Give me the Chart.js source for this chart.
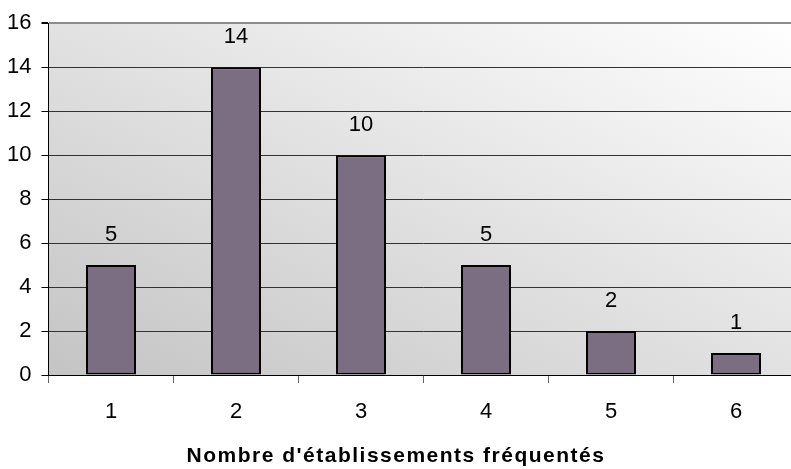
<!DOCTYPE html>
<html>
<head>
<meta charset="utf-8">
<script src="https://cdn.jsdelivr.net/npm/chart.js@4/dist/chart.umd.min.js"></script>
<style>
  html, body { margin: 0; padding: 0; background: #fff; overflow: hidden; }
  #wrap { width: 800px; height: 469px; }
</style>
</head>
<body>
<div id="wrap"><canvas id="myChart" width="800" height="469"></canvas></div>
<script>
// categories and values
var categories = ['1', '2', '3', '4', '5', '6'];
var counts = [5, 14, 10, 5, 2, 1];
var axisTitle = "Nombre d'établissements fréquentés";

Chart.defaults.font.family = '"Liberation Sans", Arial, sans-serif';
Chart.defaults.color = '#000';

// diagonal grey -> white fill behind the plot area
const plotBackground = {
  id: 'plotBackground',
  beforeDraw(chart) {
    const a = chart.chartArea;
    const ctx = chart.ctx;
    ctx.save();
    ctx.translate(a.left, a.top);
    ctx.scale(a.right - a.left, a.bottom - a.top);
    const g = ctx.createLinearGradient(0, 1, 1, 0);
    g.addColorStop(0, '#c4c4c4');
    g.addColorStop(1, '#ffffff');
    ctx.fillStyle = g;
    ctx.fillRect(0, 0, 1, 1);
    ctx.restore();
  }
};

// value printed above each bar + the x axis title under everything
const barLabels = {
  id: 'barLabels',
  afterDatasetsDraw(chart) {
    const ctx = chart.ctx;
    const meta = chart.getDatasetMeta(0);
    ctx.save();
    ctx.font = '22px "Liberation Sans", Arial, sans-serif';
    ctx.fillStyle = '#000';
    ctx.textAlign = 'center';
    ctx.textBaseline = 'middle';
    meta.data.forEach(function (bar, i) {
      ctx.fillText(String(counts[i]), bar.x, bar.y - 30);
    });
    ctx.restore();
  },
  afterDraw(chart) {
    const ctx = chart.ctx;
    ctx.save();
    ctx.font = 'bold 21px "Liberation Sans", Arial, sans-serif';
    ctx.letterSpacing = '1.5px';
    ctx.fillStyle = '#000';
    ctx.textAlign = 'center';
    ctx.textBaseline = 'middle';
    ctx.fillText(axisTitle, 396, chart.height - 13);
    ctx.restore();
  }
};

const ctx = document.getElementById('myChart').getContext('2d');
const myChart = new Chart(ctx, {
  type: 'bar',
  data: {
    labels: categories,
    datasets: [{
      data: counts,
      backgroundColor: '#7b6e82',
      borderColor: '#000',
      borderWidth: 2,
      borderSkipped: false,
      categoryPercentage: 1,
      barPercentage: 0.4
    }]
  },
  options: {
    responsive: false,
    animation: false,
    layout: { padding: { top: 23, right: 1.5, left: 0, bottom: 44 } },
    plugins: {
      legend: { display: false },
      tooltip: { enabled: false },
      title: { display: false }
    },
    scales: {
      x: {
        offset: true,
        afterFit(scale) { scale.height = 50; },
        grid: {
          offset: true,
          drawOnChartArea: false,
          tickLength: 8,
          tickColor: '#666'
        },
        border: { color: '#000', width: 1 },
        ticks: { padding: 16, font: { size: 22 }, color: '#000' }
      },
      y: {
        min: 0,
        max: 16,
        afterFit(scale) { scale.width = 48.5; },
        ticks: { stepSize: 2, padding: 10, font: { size: 22 }, color: '#000' },
        grid: {
          tickLength: 7,
          tickColor: '#000',
          color: function (c) { return c.tick && c.tick.value === 16 ? '#8c8c8c' : '#333'; },
          lineWidth: function (c) { return c.tick && c.tick.value === 16 ? 2 : 1; }
        },
        border: { color: '#000', width: 1 }
      }
    }
  },
  plugins: [plotBackground, barLabels]
});
</script>
</body>
</html>
